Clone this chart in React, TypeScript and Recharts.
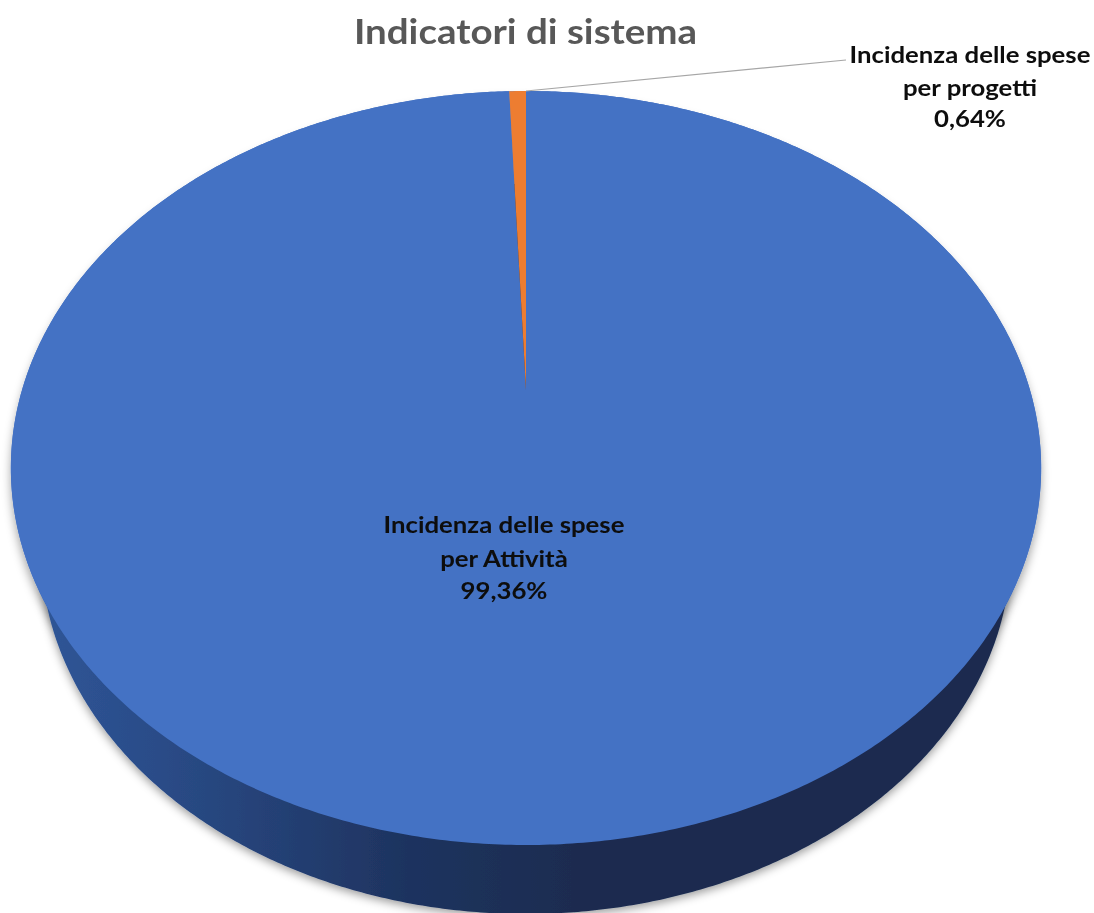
import React from "react";
import { PieChart, Pie } from "recharts";

const categories = ["Incidenza delle spese per Attività", "Incidenza delle spese per progetti"];
const labelFirstLine = ["Incidenza delle spese", "Incidenza delle spese"];
const labelSecondLine = ["per Attività", "per progetti"];
const shares = [99.36, 0.64];
const sliceColors = ["#4472C4", "#ED7D31"];
const chartTitle = "Indicatori di sistema";

const rows = categories.map((name, i) => ({ name, value: shares[i] }));

const W = 1094;
const H = 913;
const FONT = "Lato, 'Open Sans', sans-serif";

// Perspective projection of the pie's circle on the screen.
function project(cx: number, cy: number, r: number, ky: number, p: number, deg: number) {
  const a = (deg * Math.PI) / 180;
  const w = 1 + p * Math.sin(a);
  return [cx + (r * Math.cos(a)) / w, cy - (r * ky * Math.sin(a)) / w];
}

function makeShape(ky: number, p: number, fillFor: (i: number) => string, filter?: string) {
  return (props: any) => {
    const { cx, cy, outerRadius, startAngle, endAngle, index } = props;
    const steps = Math.max(2, Math.ceil(Math.abs(endAngle - startAngle) * 2));
    const pts: string[] = [`${cx},${cy}`];
    for (let s = 0; s <= steps; s++) {
      const d = startAngle + ((endAngle - startAngle) * s) / steps;
      const [x, y] = project(cx, cy, outerRadius, ky, p, d);
      pts.push(`${x.toFixed(2)},${y.toFixed(2)}`);
    }
    return <path d={`M${pts.join("L")}Z`} fill={fillFor(index ?? 0)} stroke="none" filter={filter} />;
  };
}

const TOP_KY = 0.716;
const TOP_P = 0.2069;
const WALL_KY = 0.7526;

const labelCentres = [
  { x: 504, ys: [524, 558, 590] },
  { x: 970, ys: [54, 87, 118] },
];

function StretchedText({ x, y, sx, size, color, children }: any) {
  return (
    <text
      transform={`translate(${x} ${y}) scale(${sx} 1)`}
      textAnchor="middle"
      dominantBaseline="central"
      fontFamily={FONT}
      fontWeight={700}
      fontSize={size}
      fill={color}
      filter="url(#softText)"
    >
      {children}
    </text>
  );
}

function renderLabel(props: any) {
  const i = props.index ?? 0;
  const spot = labelCentres[i];
  const texts = [labelFirstLine[i], labelSecondLine[i], `${shares[i].toFixed(2).replace(".", ",")}%`];
  return (
    <g key={i}>
      {texts.map((t, k) => (
        <StretchedText key={k} x={spot.x} y={spot.ys[k]} sx={1.12} size={23} color="#0b0b0b">
          {t}
        </StretchedText>
      ))}
    </g>
  );
}

function renderLine(props: any) {
  const i = props.index ?? 0;
  if (i !== 1) return <g key={i} />;
  const [x, y] = project(526, 390, 504, TOP_KY, TOP_P, 90);
  return <line key={i} x1={x} y1={y} x2={846} y2={60} stroke="#a6a6a6" strokeWidth={1.2} />;
}

export default function App() {
  return (
    <div style={{ position: "absolute", left: 0, top: 0, width: W, height: H, overflow: "hidden", background: "#fff" }}>
      <PieChart width={W} height={H} margin={{ top: 0, right: 0, bottom: 0, left: 0 }}>
        <defs>
          <linearGradient id="wallFill" gradientUnits="userSpaceOnUse" x1={40} y1={0} x2={1010} y2={0}>
            <stop offset="0" stopColor="#2F5597" />
            <stop offset="0.12" stopColor="#2A4C88" />
            <stop offset="0.38" stopColor="#1E335F" />
            <stop offset="0.55" stopColor="#1A2C50" />
            <stop offset="1" stopColor="#1A2C50" />
          </linearGradient>
          <filter id="wallShadow" x="-5%" y="-5%" width="110%" height="110%">
            <feDropShadow dx={0} dy={3} stdDeviation={5} floodColor="#000" floodOpacity={0.4} />
          </filter>
          <filter id="topShadow" x="-5%" y="-5%" width="110%" height="110%">
            <feDropShadow dx={0} dy={7} stdDeviation={5} floodColor="#000" floodOpacity={0.35} />
          </filter>
          <filter id="softText" x="-5%" y="-20%" width="110%" height="140%">
            <feGaussianBlur stdDeviation={0.45} />
          </filter>
        </defs>
        <Pie
          data={rows}
          dataKey="value"
          nameKey="name"
          cx={526}
          cy={390}
          outerRadius={504}
          startAngle={90}
          endAngle={-270}
          stroke="none"
          isAnimationActive={false}
          shape={makeShape(TOP_KY, TOP_P, () => sliceColors[0], "url(#topShadow)")}
        />
        <Pie
          data={rows}
          dataKey="value"
          nameKey="name"
          cx={526}
          cy={549}
          outerRadius={485}
          startAngle={90}
          endAngle={-270}
          stroke="none"
          isAnimationActive={false}
          shape={makeShape(WALL_KY, 0, () => "url(#wallFill)", "url(#wallShadow)")}
        />
        <Pie
          data={rows}
          dataKey="value"
          nameKey="name"
          cx={526}
          cy={390}
          outerRadius={504}
          startAngle={90}
          endAngle={-270}
          stroke="none"
          isAnimationActive={false}
          shape={makeShape(TOP_KY, TOP_P, (i) => sliceColors[i])}
          label={renderLabel}
          labelLine={renderLine}
        />
        <StretchedText x={525.5} y={31} sx={1.1} size={35} color="#595959">
          {chartTitle}
        </StretchedText>
      </PieChart>
    </div>
  );
}
